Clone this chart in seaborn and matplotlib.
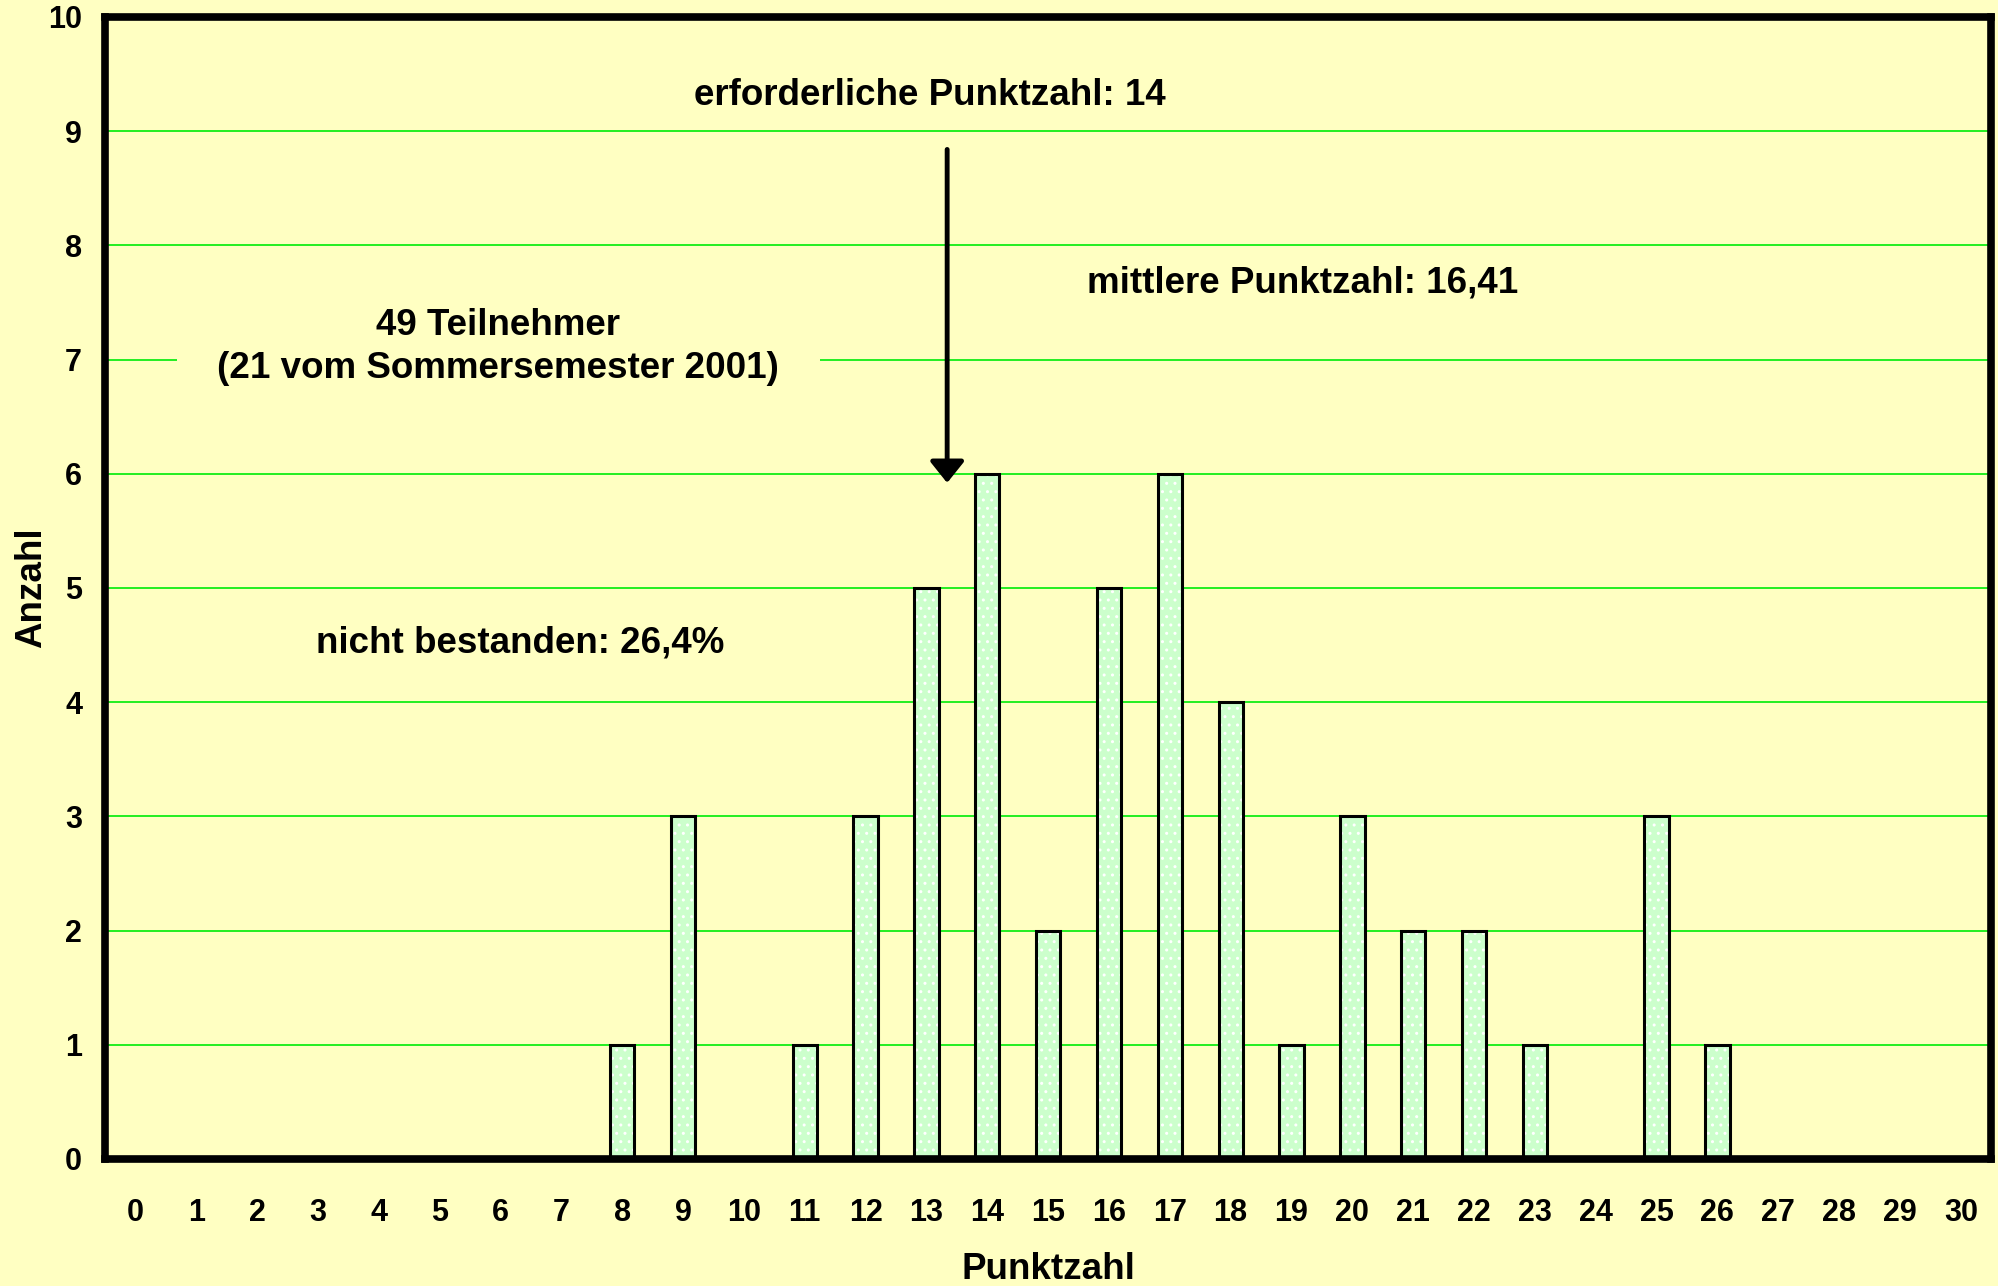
import pandas as pd
import matplotlib.pyplot as plt
import seaborn as sns
import numpy as np

# Punktzahl-Verteilung
punkte = list(range(0, 31))
anzahl = [0, 0, 0, 0, 0, 0, 0, 0, 1, 3, 0, 1, 3, 5, 6, 2, 5, 6, 4, 1, 3, 2, 2, 1, 0, 3, 1, 0, 0, 0, 0]
y_ticks = list(range(0, 11))

df = pd.DataFrame({"Punktzahl": punkte, "Anzahl": anzahl})

bg = "#FFFFC2"
sns.set_style("white")
plt.rcParams["font.family"] = ["Liberation Sans", "DejaVu Sans"]
plt.rcParams["font.weight"] = "bold"
plt.rcParams["hatch.linewidth"] = 1.0
# seaborn makes text dark grey, the original is black
plt.rcParams["text.color"] = "black"
plt.rcParams["axes.labelcolor"] = "black"
plt.rcParams["xtick.labelcolor"] = "black"
plt.rcParams["ytick.labelcolor"] = "black"

fig = plt.figure(figsize=(19.98, 12.86), dpi=100, facecolor=bg)
ax = fig.add_axes([0.0526, 0.0988, 0.944, 0.888])
ax.set_facecolor(bg)

# dots inside the bars
sns.barplot(data=df, x="Punktzahl", y="Anzahl", order=punkte, width=0.4,
            color="#CCFFCC", saturation=1, edgecolor="white", linewidth=0,
            hatch="..", ax=ax, zorder=2)
# outline
sns.barplot(data=df, x="Punktzahl", y="Anzahl", order=punkte, width=0.4,
            facecolor="none", edgecolor="black", linewidth=2.2, ax=ax, zorder=3)

ax.set_xlim(-0.5, 30.5)
ax.set_ylim(0, 10)
ax.set_yticks(y_ticks)
ax.set_xticks(range(len(punkte)))
ax.set_xticklabels([str(p) for p in punkte])
ax.set_xticks(np.arange(-0.5, 31, 1), minor=True)

ax.tick_params(axis="x", which="major", length=0, pad=28, labelsize=22, labelcolor="black")
ax.tick_params(axis="x", which="minor", direction="inout", length=15, width=1.2, color="#333333")
ax.tick_params(axis="y", direction="inout", length=15, width=1.2, color="#333333", pad=9,
               labelsize=22, labelcolor="black")

ax.yaxis.grid(True, color="#22EE22", linewidth=1.4)
ax.xaxis.grid(False)
ax.set_axisbelow(True)

for s in ax.spines.values():
    s.set_visible(True)
    s.set_color("black")
    s.set_linewidth(5.5)
    s.set_zorder(4)

ax.set_xlabel("Punktzahl", fontsize=26.5, fontweight="bold", color="black")
ax.set_ylabel("Anzahl", fontsize=26.5, fontweight="bold", color="black")
ax.xaxis.set_label_coords(0.5, -0.097)
ax.xaxis.label.set_va("center")
ax.yaxis.set_label_coords(-0.039, 0.5)
ax.yaxis.label.set_va("center")

tkw = dict(fontsize=26.5, fontweight="bold", color="black", ha="center", va="center", zorder=5)
ax.text(13.06, 9.31, "erforderliche Punktzahl: 14", **tkw)
ax.text(19.18, 7.67, "mittlere Punktzahl: 16,41", **tkw)
ax.text(5.96, 7.11, "49 Teilnehmer\n(21 vom Sommersemester 2001)", linespacing=1.33,
        bbox=dict(boxstyle="square,pad=1.1", facecolor=bg, edgecolor="none"), **tkw)
ax.text(6.32, 4.52, "nicht bestanden: 26,4%", **tkw)

ax.annotate("", xy=(13.34, 5.92), xytext=(13.34, 8.84),
            arrowprops=dict(arrowstyle="-|>,head_length=0.5,head_width=0.4",
                            mutation_scale=26, color="black", lw=3.5,
                            shrinkA=0, shrinkB=0), zorder=5)

plt.savefig("out.png", dpi=100, facecolor=bg)
